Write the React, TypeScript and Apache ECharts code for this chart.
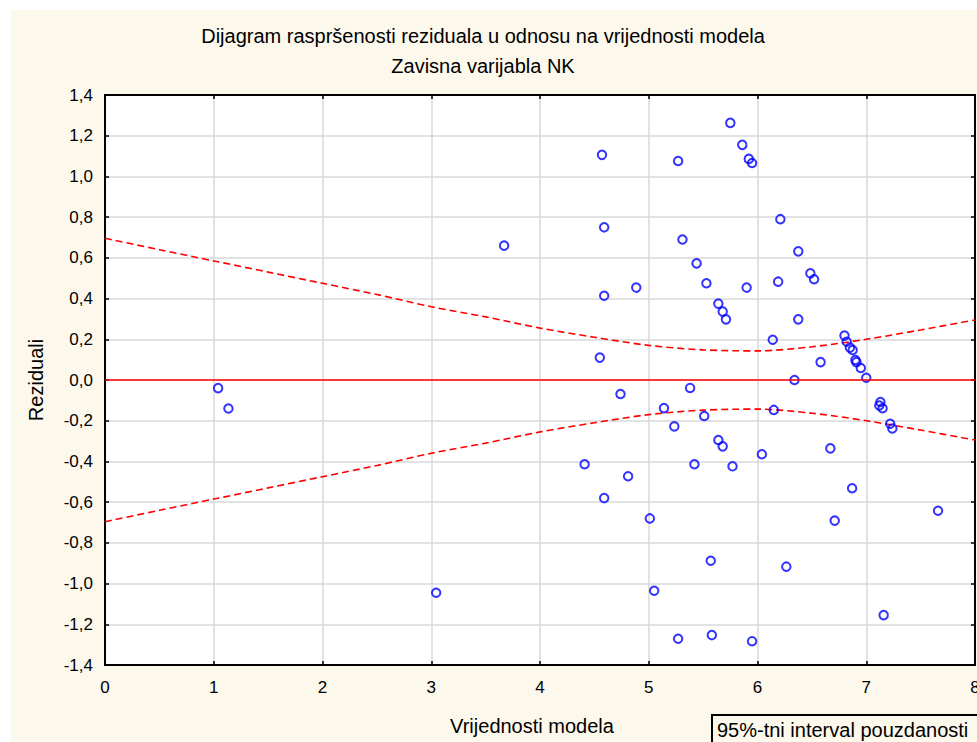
import React, { useEffect, useRef } from 'react';
import * as echarts from 'echarts';

const titleText = 'Dijagram raspršenosti reziduala u odnosu na vrijednosti modela';
const subtitleText = 'Zavisna varijabla NK';
const xAxisName = 'Vrijednosti modela';
const yAxisName = 'Reziduali';
const legendText = '95%-tni interval pouzdanosti';

const predicted = [
  1.04, 1.135, 3.045, 3.67, 4.41, 4.55, 4.57, 4.59, 4.59, 4.59,
  4.74, 4.81, 4.885, 5.01, 5.05, 5.14, 5.235, 5.27, 5.27, 5.31,
  5.38, 5.42, 5.44, 5.51, 5.53, 5.57, 5.58, 5.64, 5.64, 5.68,
  5.68, 5.71, 5.75, 5.77, 5.86, 5.9, 5.92, 5.95, 5.95, 6.04,
  6.14, 6.15, 6.19, 6.21, 6.265, 6.34, 6.375, 6.375, 6.486, 6.52,
  6.58, 6.67, 6.71, 6.8, 6.82, 6.85, 6.875, 6.87, 6.9, 6.91,
  6.95, 7.0, 7.12, 7.13, 7.15, 7.16, 7.22, 7.24, 7.66,
];
const residuals = [
  -0.04, -0.14, -1.045, 0.66, -0.414, 0.11, 1.106, 0.75, 0.414, -0.58,
  -0.069, -0.473, 0.454, -0.68, -1.035, -0.138, -0.228, 1.076, -1.271, 0.69,
  -0.039, -0.414, 0.573, -0.177, 0.475, -0.888, -1.253, 0.375, -0.295, 0.336,
  -0.326, 0.298, 1.263, -0.424, 1.155, 0.454, 1.086, 1.066, -1.283, -0.365,
  0.198, -0.147, 0.483, 0.79, -0.917, 0.0, 0.632, 0.298, 0.524, 0.495,
  0.088, -0.336, -0.691, 0.218, 0.188, 0.159, 0.147, -0.532, 0.098, 0.088,
  0.059, 0.011, -0.125, -0.108, -0.139, -1.155, -0.215, -0.238, -0.642,
];

const bandX = [0, 0.5, 1, 1.5, 2, 2.5, 3, 3.5, 4, 4.5, 5, 5.5, 6, 6.5, 7, 7.5, 8];
const upperBand = [0.696, 0.64, 0.585, 0.53, 0.475, 0.42, 0.36, 0.31, 0.255, 0.21, 0.17, 0.148, 0.143, 0.163, 0.2, 0.246, 0.295];
const lowerBand = [-0.696, -0.64, -0.585, -0.53, -0.475, -0.42, -0.36, -0.31, -0.255, -0.21, -0.17, -0.148, -0.143, -0.163, -0.2, -0.246, -0.295];

const FONT = '"Liberation Sans", Arial, sans-serif';
const CREAM = '#fdf8ec';

export default function App() {
  const ref = useRef<HTMLDivElement>(null);
  useEffect(() => {
    if (!ref.current) return;
    const chart = echarts.init(ref.current, undefined, { renderer: 'svg' });
    const scatterData = predicted.map((x, i) => [x, residuals[i]]);
    const upperData = bandX.map((x, i) => [x, upperBand[i]]);
    const lowerData = bandX.map((x, i) => [x, lowerBand[i]]);
    const tickStyle = { inside: true, length: 4, lineStyle: { color: '#000', width: 1.5 } };
    const lineStyle = { color: '#000', width: 2 };
    const splitLine = { show: true, lineStyle: { color: '#d9d9d9', width: 1.5 } };
    const dashed = { color: '#ff0000', width: 1.6, type: [7, 4] as any };
    chart.setOption({
      animation: false,
      backgroundColor: CREAM,
      textStyle: { fontFamily: FONT },
      title: [
        { text: titleText, left: 467, top: 11, textAlign: 'center', textStyle: { fontSize: 20, fontWeight: 'normal', color: '#000', fontFamily: FONT } },
        { text: subtitleText, left: 467, top: 41, textAlign: 'center', textStyle: { fontSize: 20, fontWeight: 'normal', color: '#000', fontFamily: FONT } },
      ],
      grid: { left: 94, top: 85, width: 870, height: 570, show: true, backgroundColor: '#fff', borderWidth: 0 },
      xAxis: [
        {
          type: 'value', min: 0, max: 8, interval: 1, position: 'bottom',
          name: xAxisName, nameLocation: 'middle', nameGap: 51,
          nameTextStyle: { fontSize: 20, color: '#000', fontFamily: FONT, padding: [0, 16, 0, 0] },
          axisLine: { show: true, onZero: false, lineStyle },
          axisTick: tickStyle,
          axisLabel: { fontSize: 17, color: '#000', margin: 14, fontFamily: FONT },
          splitLine,
        },
        {
          type: 'value', min: 0, max: 8, interval: 1, position: 'top',
          axisLine: { show: true, onZero: false, lineStyle },
          axisTick: tickStyle, axisLabel: { show: false }, splitLine: { show: false },
        },
      ],
      yAxis: [
        {
          type: 'value', min: -1.4, max: 1.4, interval: 0.2, position: 'left',
          name: yAxisName, nameLocation: 'middle', nameGap: 59,
          nameTextStyle: { fontSize: 20, color: '#000', fontFamily: FONT },
          axisLine: { show: true, onZero: false, lineStyle },
          axisTick: tickStyle,
          axisLabel: {
            fontSize: 17, color: '#000', margin: 12, fontFamily: FONT,
            formatter: (v: number) => (Math.abs(v) < 1e-9 ? 0 : v).toFixed(1).replace('.', ','),
          },
          splitLine,
        },
        {
          type: 'value', min: -1.4, max: 1.4, interval: 0.2, position: 'right',
          axisLine: { show: true, onZero: false, lineStyle },
          axisTick: tickStyle, axisLabel: { show: false }, splitLine: { show: false },
        },
      ],
      series: [
        {
          type: 'line', data: upperData, symbol: 'none', smooth: 0.3,
          lineStyle: dashed, z: 3,
        },
        {
          type: 'line', data: lowerData, symbol: 'none', smooth: 0.3,
          lineStyle: dashed, z: 3,
          markLine: {
            silent: true, symbol: 'none', label: { show: false },
            lineStyle: { color: '#ff0000', type: 'solid', width: 1.5 },
            data: [{ yAxis: 0 }],
          },
        },
        {
          type: 'scatter', data: scatterData, symbol: 'circle', symbolSize: 8.5,
          itemStyle: { color: 'rgba(255,255,255,0)', borderColor: '#0000ff', borderWidth: 2 },
          z: 4,
        },
      ],
      graphic: [
        {
          type: 'rect', left: 700, top: 704, z: 10,
          shape: { width: 330, height: 60 },
          style: { fill: CREAM, stroke: '#000', lineWidth: 2 },
        },
        {
          type: 'text', x: 706, y: 720, z: 11,
          style: { text: legendText, fontSize: 20, fontFamily: FONT, fill: '#000', verticalAlign: 'middle' },
        },
      ],
    });
    return () => chart.dispose();
  }, []);
  return (
    <div style={{ position: 'fixed', left: 11, top: 10, width: 966, height: 732, overflow: 'hidden', background: CREAM }}>
      <div ref={ref} style={{ width: 1010, height: 732 }} />
    </div>
  );
}
